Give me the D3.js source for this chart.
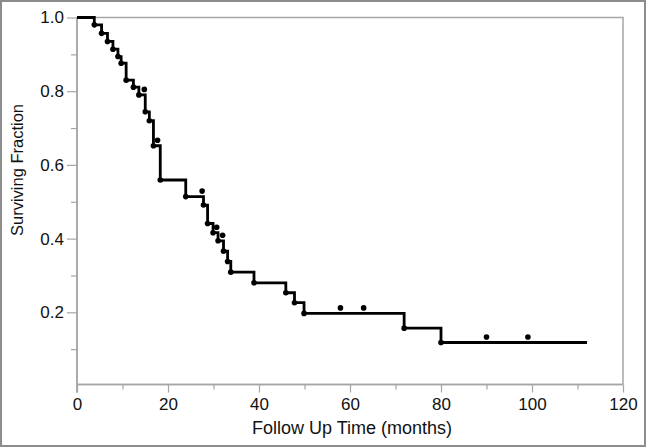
<!DOCTYPE html>
<html>
<head>
<meta charset="utf-8">
<script src="https://cdn.jsdelivr.net/npm/d3@7"></script>
<style>
  html, body { margin: 0; padding: 0; background: #fff; }
  svg { display: block; }
  text { font-family: "Liberation Sans", Arial, Helvetica, sans-serif; fill: #111; }
</style>
</head>
<body>
<svg id="chart" width="646" height="447"></svg>
<script>
// Kaplan-Meier steps: time of drop (months) and surviving fraction after drop
const stepTimes = [3.8, 5.4, 6.7, 7.9, 9.0, 9.7, 10.8, 12.4, 13.6, 15.0, 15.9, 16.8, 18.3, 23.9,
                   27.8, 28.7, 29.9, 31.0, 32.2, 33.1, 33.8, 38.9, 45.9, 47.8, 49.9, 71.9, 80.0];
const stepSurv  = [0.980, 0.957, 0.935, 0.914, 0.894, 0.876, 0.830, 0.811, 0.790, 0.744, 0.720, 0.652, 0.559, 0.514,
                   0.491, 0.441, 0.416, 0.394, 0.366, 0.338, 0.309, 0.280, 0.253, 0.226, 0.197, 0.157, 0.118];
// censored observations (time, fraction at that time)
const censorTimes = [14.8, 17.7, 27.5, 30.7, 32.0, 57.9, 63.0, 90.0, 99.1];
const censorSurv  = [0.790, 0.652, 0.514, 0.416, 0.394, 0.197, 0.197, 0.118, 0.118];
const lastTime = 112.1;

const xMajorTicks = [0, 20, 40, 60, 80, 100, 120];
const xMinorTicks = [10, 30, 50, 70, 90, 110];
const yMajorTicks = [0.2, 0.4, 0.6, 0.8, 1.0];
const yMinorTicks = [0.1, 0.3, 0.5, 0.7, 0.9];
const xTitle = "Follow Up Time (months)";
const yTitle = "Surviving Fraction";

const W = 646, H = 447;
const L = 77, R = 623, T = 17.5, B = 386;
const svg = d3.select("#chart");

const x = d3.scaleLinear().domain([0, 120]).range([L, R]);
const y = d3.scaleLinear().domain([0, 1]).range([B, T]);

// outer frame
svg.append("rect").attr("x", 1).attr("y", 1).attr("width", W - 2).attr("height", H - 2)
  .attr("fill", "none").attr("stroke", "#8c8c8c").attr("stroke-width", 2);

const axisColor = "#a6a6a6";
const plotBottom = 384.5;

// plot box (top and right)
svg.append("path")
  .attr("d", `M${L},${T}H${R}V${plotBottom}`)
  .attr("fill", "none").attr("stroke", axisColor).attr("stroke-width", 1.5);

// x axis
const gx = svg.append("g").attr("transform", `translate(0,${plotBottom})`);
gx.call(d3.axisBottom(x).tickValues(xMajorTicks).tickSize(8).tickPadding(5).tickFormat(d3.format("d")));
gx.append("g").call(d3.axisBottom(x).tickValues(xMinorTicks).tickSize(5).tickFormat(""));
gx.selectAll(".domain").attr("stroke", axisColor).attr("stroke-width", 1.5).attr("d", `M${L},0H${R}`);
gx.selectAll(".tick line").attr("stroke", axisColor).attr("stroke-width", 1.2);
gx.selectAll("text").attr("font-size", 17).attr("fill", "#111");

// y axis
const gy = svg.append("g").attr("transform", `translate(${L},0)`);
gy.call(d3.axisLeft(y).tickValues(yMajorTicks).tickSize(10).tickPadding(3).tickFormat(d3.format(".1f")));
gy.append("g").call(d3.axisLeft(y).tickValues(yMinorTicks).tickSize(6).tickFormat(""));
gy.selectAll(".domain").attr("stroke", axisColor).attr("stroke-width", 1.5).attr("d", `M0,${T}V${plotBottom + 8}`);
gy.selectAll(".tick line").attr("stroke", axisColor).attr("stroke-width", 1.2);
gy.selectAll("text").attr("font-size", 17).attr("fill", "#111");

// titles
svg.append("text").attr("x", (L + R) / 2 + 2).attr("y", 434).attr("text-anchor", "middle")
  .attr("font-size", 18).text(xTitle);
svg.append("text").attr("transform", `translate(23,170) rotate(-90)`).attr("text-anchor", "middle")
  .attr("font-size", 16.5).text(yTitle);

// KM step curve
const pts = [[0, 1]];
stepTimes.forEach((t, i) => pts.push([t, stepSurv[i]]));
pts.push([lastTime, stepSurv[stepSurv.length - 1]]);
const line = d3.line().x(d => x(d[0])).y(d => y(d[1])).curve(d3.curveStepAfter);
svg.append("path").datum(pts).attr("d", line)
  .attr("fill", "none").attr("stroke", "#000").attr("stroke-width", 2.8);

// event dots
svg.append("g").selectAll("circle").data(stepTimes).join("circle")
  .attr("cx", d => x(d)).attr("cy", (d, i) => y(stepSurv[i])).attr("r", 2.8).attr("fill", "#000");

// censor marks (drawn just above the curve)
svg.append("g").selectAll("circle").data(censorTimes).join("circle")
  .attr("cx", d => x(d)).attr("cy", (d, i) => y(censorSurv[i]) - 5.5).attr("r", 2.8).attr("fill", "#000");
</script>
</body>
</html>
